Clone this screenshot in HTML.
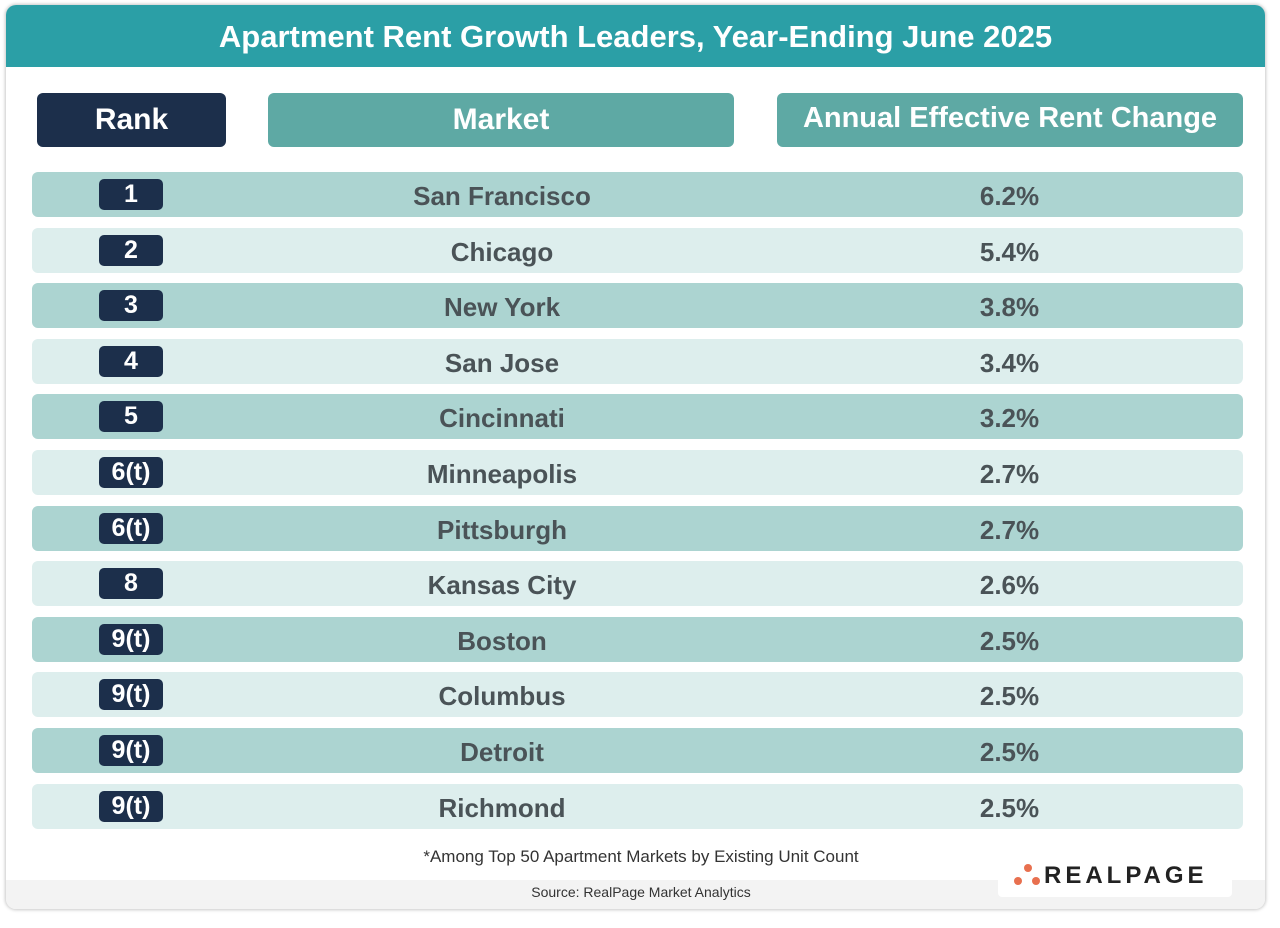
<!DOCTYPE html>
<html><head><meta charset="utf-8"><style>
body{margin:0;width:1280px;height:928px;background:#fff;font-family:"Liberation Sans",sans-serif;position:relative;overflow:hidden}
.card{position:absolute;left:6px;top:5px;width:1259px;height:904px;border-radius:10px;box-shadow:0 0 3px 1px #c8c8c8;overflow:hidden;background:#fff}
.hdr{position:absolute;left:0;top:0;width:100%;height:62px;background:#2b9fa6;color:#fff;font-weight:bold;font-size:31px;text-align:center;line-height:64px}
.pill{position:absolute;top:88px;height:54px;border-radius:6px;color:#fff;font-size:30px;font-weight:bold;text-align:center;line-height:54px}
.row{position:absolute;left:26px;width:1211px;height:45px;border-radius:6px}
.badge{position:absolute;left:67px;top:7px;width:64px;height:31px;border-radius:5px;background:#1c2f4b;color:#fff;font-weight:bold;font-size:25px;text-align:center;line-height:31px}
.mk,.val{position:absolute;top:0;line-height:48px;font-weight:bold;font-size:26px;color:#4a5357;text-align:center}
.mk{left:264px;width:412px}.val{left:850px;width:255px}
.band{position:absolute;left:0;top:875px;width:100%;height:30px;background:#f3f3f3}
</style></head><body>
<div class="card">
<div class="hdr">Apartment Rent Growth Leaders, Year-Ending June 2025</div>
<div class="pill" style="left:31px;width:189px;background:#1c2f4b">Rank</div>
<div class="pill" style="left:262px;width:466px;background:#5ea9a4">Market</div>
<div class="pill" style="left:771px;width:466px;background:#5ea9a4;font-size:29px;line-height:50px">Annual Effective Rent Change</div>
<div id="rows"></div>
<div class="band"></div>
<div style="position:absolute;left:0;width:1270px;top:842px;text-align:center;font-size:17px;color:#333">*Among Top 50 Apartment Markets by Existing Unit Count</div>
<div style="position:absolute;left:0;width:1270px;top:879px;text-align:center;font-size:14px;color:#333">Source: RealPage Market Analytics</div>
<div style="position:absolute;left:992px;top:847px;width:234px;height:45px;background:#fff;border-radius:4px">
<svg width="40" height="45" style="position:absolute;left:10px;top:0"><circle cx="20" cy="16" r="4" fill="#e8704f"/><circle cx="10" cy="29" r="4" fill="#e8704f"/><circle cx="28" cy="29" r="4" fill="#e8704f"/></svg>
<div style="position:absolute;left:46px;top:10px;font-size:24px;font-weight:bold;letter-spacing:4px;color:#222">REALPAGE</div></div>
</div>
<script>
const ranks=["1","2","3","4","5","6(t)","6(t)","8","9(t)","9(t)","9(t)","9(t)"];
const markets=["San Francisco","Chicago","New York","San Jose","Cincinnati","Minneapolis","Pittsburgh","Kansas City","Boston","Columbus","Detroit","Richmond"];
const values=[6.2,5.4,3.8,3.4,3.2,2.7,2.7,2.6,2.5,2.5,2.5,2.5];
const c=document.getElementById('rows');
markets.forEach((m,i)=>{
const r=document.createElement('div');r.className='row';


r.style.top=(167+i*55.6)+'px';r.style.background=i%2?'#ddeeed':'#acd4d1';
const b=document.createElement('div');b.className='badge';b.textContent=ranks[i];


const t=document.createElement('div');t.className='mk';t.textContent=m;


const v=document.createElement('div');v.className='val';v.textContent=values[i].toFixed(1)+'%';


r.append(b,t,v);c.appendChild(r);});
</script>
</body></html>
